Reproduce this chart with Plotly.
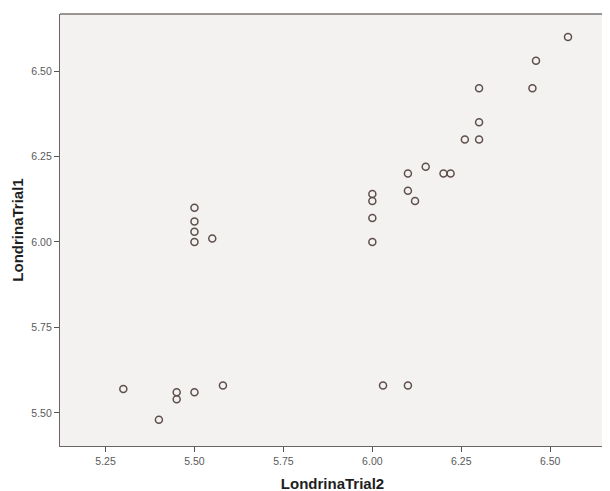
import plotly.graph_objects as go

# LondrinaTrial2 (x) and LondrinaTrial1 (y)
trial2 = [5.50, 5.50, 5.50, 5.50, 5.55,
          5.30, 5.40, 5.45, 5.45, 5.50, 5.58,
          6.55, 6.46, 6.30, 6.45, 6.30, 6.26, 6.30,
          6.15, 6.10, 6.20, 6.22, 6.10, 6.12,
          6.00, 6.00, 6.00, 6.00,
          6.03, 6.10]
trial1 = [6.10, 6.06, 6.03, 6.00, 6.01,
          5.57, 5.48, 5.56, 5.54, 5.56, 5.58,
          6.60, 6.53, 6.45, 6.45, 6.35, 6.30, 6.30,
          6.22, 6.20, 6.20, 6.20, 6.15, 6.12,
          6.14, 6.12, 6.07, 6.00,
          5.58, 5.58]

x_ticks = [5.25, 5.50, 5.75, 6.00, 6.25, 6.50]
y_ticks = [5.50, 5.75, 6.00, 6.25, 6.50]

fig = go.Figure(go.Scatter(
    x=trial2, y=trial1, mode="markers",
    marker=dict(symbol="circle-open", size=7, color="#5e4f4c",
                line=dict(width=1.5, color="#5e4f4c")),
    hoverinfo="x+y",
))

axis_common = dict(
    showgrid=False, zeroline=False, showline=True, linecolor="#6a6462",
    linewidth=1.3, ticks="outside", ticklen=5, tickwidth=1, tickcolor="#555",
    tickformat=".2f", automargin=False,
    tickfont=dict(family="Liberation Sans, Arial, sans-serif", size=10.5, color="#5a5a5a"),
)

fig.update_layout(
    width=610, height=491,
    margin=dict(l=52, r=13, t=6, b=53),
    paper_bgcolor="white", plot_bgcolor="#f3f2f0",
    showlegend=False,
    xaxis=dict(axis_common, range=[5.122, 6.654], tickvals=x_ticks, mirror=False,
               title=dict(text="<b>LondrinaTrial2</b>", standoff=12,
                          font=dict(family="Liberation Sans, Arial, sans-serif", size=15, color="#1e1e1e"))),
    yaxis=dict(axis_common, range=[5.403, 6.667], tickvals=y_ticks,
               title=dict(text="<b>LondrinaTrial1</b>", standoff=4,
                          font=dict(family="Liberation Sans, Arial, sans-serif", size=15, color="#1e1e1e"))),
    shapes=[dict(type="line", xref="paper", yref="paper", x0=0, x1=1, y0=1, y1=1,
                 line=dict(color="#7a7472", width=1.3))],
)

fig.write_html("out.html")
